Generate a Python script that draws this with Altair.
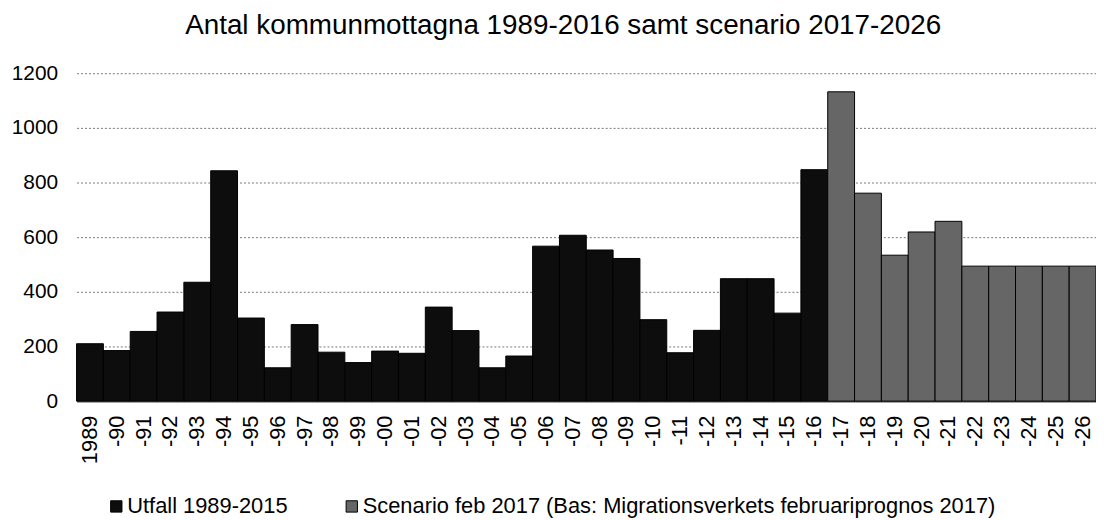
import altair as alt
import pandas as pd

years = list(range(1989, 2027))
tick_labels = ["1989"] + ["-" + str(y)[2:] for y in range(1990, 2027)]
values = [
    210, 185, 255, 326, 435, 843, 304, 122, 280, 179,
    141, 183, 175, 344, 258, 122, 165, 567, 607, 553,
    522, 298, 177, 259, 448, 448, 322, 847,
    1132, 761, 534, 619, 658, 494, 494, 494, 494, 494,
]
series_names = [
    "Utfall 1989-2015",
    "Scenario feb 2017 (Bas: Migrationsverkets februariprognos 2017)",
]
series = [series_names[0] if y <= 2016 else series_names[1] for y in years]

df = pd.DataFrame({"year": years, "label": tick_labels, "value": values, "series": series})

FONT = "Liberation Sans"

chart = (
    alt.Chart(df)
    .mark_bar(stroke="black", strokeWidth=1)
    .encode(
        x=alt.X(
            "label:N",
            sort=tick_labels,
            scale=alt.Scale(paddingInner=0, paddingOuter=0),
            axis=alt.Axis(
                title=None,
                labelAngle=-90,
                labelFontSize=22,
                labelFont=FONT,
                labelColor="black",
                labelPadding=14,
                ticks=False,
                domainColor="#555555",
                domainWidth=2,
                grid=False,
            ),
        ),
        y=alt.Y(
            "value:Q",
            scale=alt.Scale(domain=[0, 1200]),
            axis=alt.Axis(
                title=None,
                values=[0, 200, 400, 600, 800, 1000, 1200],
                format="d",
                labelFontSize=21,
                labelFont=FONT,
                labelColor="black",
                labelPadding=19,
                ticks=False,
                domain=False,
                grid=True,
                gridColor="#777777",
                gridDash=[2, 2],
                gridWidth=1,
            ),
        ),
        color=alt.Color(
            "series:N",
            scale=alt.Scale(domain=series_names, range=["#0d0d0d", "#666666"]),
            legend=alt.Legend(
                title=None,
                orient="none",
                direction="horizontal",
                legendX=29,
                legendY=425,
                padding=0,
                symbolType="square",
                symbolSize=130,
                symbolStrokeColor="black",
                symbolStrokeWidth=1,
                labelFontSize=22,
                labelFont=FONT,
                labelColor="black",
                labelOffset=0,
                columnPadding=53,
                labelLimit=900,
            ),
        ),
    )
    .properties(
        width=1026,
        height=330,
        autosize=alt.AutoSizeParams(type="none"),
        padding={"left": 69, "top": 64, "right": 0, "bottom": 116},
        title=alt.TitleParams(
            "Antal kommunmottagna  1989-2016 samt scenario 2017-2026",
            anchor="start",
            dx=175,
            offset=22,
            fontSize=28,
            font=FONT,
            fontWeight="normal",
            color="black",
        ),
    )
    .configure_view(stroke=None)
)

chart.save("out.html", embed_options={"renderer": "svg", "actions": False})
